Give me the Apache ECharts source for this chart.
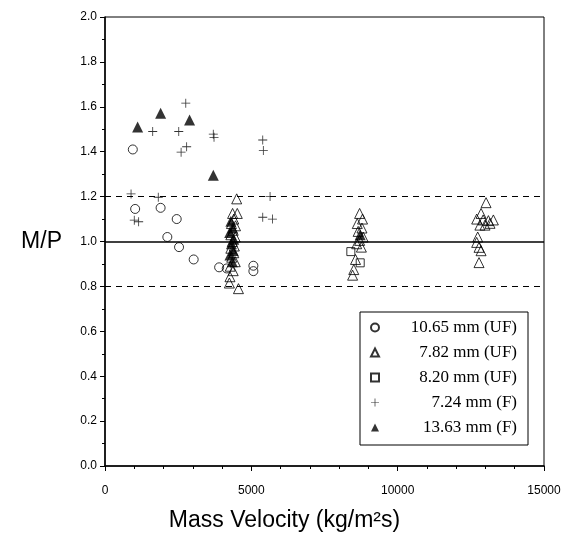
<!DOCTYPE html>
<html>
<head>
<meta charset="utf-8">
<script src="https://cdn.jsdelivr.net/npm/echarts@6/dist/echarts.min.js"></script>
<style>html,body{margin:0;padding:0;background:#fff}#c{width:569px;height:540px}</style>
</head>
<body>
<div id="c"></div>
<script>
var seriesNames = ['10.65 mm (UF)', '7.82 mm (UF)', '8.20 mm (UF)', '7.24 mm (F)', '13.63 mm (F)'];
var xTicks = [0, 5000, 10000, 15000];
var yTicks = [0, 0.2, 0.4, 0.6, 0.8, 1.0, 1.2, 1.4, 1.6, 1.8, 2.0];
var refLines = [0.8, 1.0, 1.2];

var circles1065 = [
  [950, 1.41], [1030, 1.145], [1900, 1.15], [2450, 1.10], [2130, 1.02],
  [2530, 0.975], [3030, 0.92], [3900, 0.885], [4160, 0.88], [5070, 0.892], [5070, 0.868]
];
var triangles782 = [
  [4500, 1.19], [4360, 1.125], [4520, 1.125], [4400, 1.10], [4320, 1.08], [4460, 1.07],
  [4380, 1.05], [4300, 1.03], [4450, 1.02], [4350, 1.00], [4420, 0.98], [4300, 0.97],
  [4400, 0.95], [4330, 0.93], [4450, 0.91], [4280, 0.89], [4380, 0.87], [4270, 0.843],
  [4250, 0.815], [4560, 0.79],
  [8700, 1.125], [8800, 1.10], [8620, 1.08], [8780, 1.06], [8650, 1.045], [8820, 1.02],
  [8700, 1.005], [8600, 0.99], [8760, 0.975], [8560, 0.92], [8500, 0.875], [8460, 0.85],
  [13020, 1.173], [12850, 1.125], [12700, 1.10], [12920, 1.096], [13100, 1.093], [13270, 1.096],
  [12810, 1.073], [12985, 1.073], [13155, 1.081], [12735, 1.02], [12700, 0.996], [12780, 0.974],
  [12850, 0.959], [12780, 0.906]
];
var squares820 = [
  [8400, 0.955], [8720, 0.905]
];
var plus724 = [
  [2760, 1.616], [1630, 1.49], [2520, 1.49], [2790, 1.422], [2600, 1.398], [3700, 1.478],
  [3725, 1.464], [5390, 1.452], [5410, 1.405], [890, 1.212], [1820, 1.197], [5640, 1.20],
  [1000, 1.095], [1150, 1.088], [5390, 1.108], [5720, 1.10]
];
var filled1363 = [
  [1115, 1.51], [1900, 1.571], [2890, 1.541], [3700, 1.295],
  [4300, 1.09], [4360, 1.06], [4260, 1.04], [4400, 1.01], [4320, 0.99], [4380, 0.96],
  [4270, 0.94], [4350, 0.91], [8720, 1.03]
];

var plusPath = 'path://M-0.09,-1H0.09V-0.09H1V0.09H0.09V1H-0.09V0.09H-1V-0.09H-0.09Z';

var chart = echarts.init(document.getElementById('c'));
var openStyle = {color: 'rgba(255,255,255,0)', borderColor: '#000', borderWidth: 1};

chart.setOption({
  animation: false,
  backgroundColor: '#fff',
  grid: {left: 105, right: 25, top: 17, bottom: 74, show: true, borderColor: '#000', borderWidth: 1, backgroundColor: 'transparent'},
  xAxis: {
    type: 'value', min: xTicks[0], max: xTicks[xTicks.length - 1], interval: 5000,
    name: 'Mass Velocity (kg/m\u00B2s)', nameLocation: 'middle', nameGap: 43,
    nameTextStyle: {fontFamily: 'Liberation Sans', fontSize: 23, color: '#000', padding: [0, 80, 0, 0]},
    axisLine: {show: true, lineStyle: {color: '#000', width: 1.5}},
    axisTick: {show: true, length: 5, lineStyle: {color: '#000'}},
    minorTick: {show: true, splitNumber: 5, length: 3, lineStyle: {color: '#000'}},
    splitLine: {show: false},
    axisLabel: {fontFamily: 'Liberation Sans', fontSize: 12, color: '#000', margin: 19,
      formatter: function (v) { return xTicks.indexOf(v) >= 0 ? String(v) : ''; }}
  },
  yAxis: {
    type: 'value', min: yTicks[0], max: yTicks[yTicks.length - 1], interval: 0.2,
    name: 'M/P', nameLocation: 'middle', nameRotate: 0, nameGap: 43,
    nameTextStyle: {fontFamily: 'Liberation Sans', fontSize: 23, color: '#000'},
    axisLine: {show: true, lineStyle: {color: '#000', width: 1.5}},
    axisTick: {show: true, length: 5, lineStyle: {color: '#000'}},
    minorTick: {show: true, splitNumber: 2, length: 3, lineStyle: {color: '#000'}},
    splitLine: {show: false},
    axisLabel: {fontFamily: 'Liberation Sans', fontSize: 12, color: '#000', margin: 8,
      formatter: function (v) { return v.toFixed(1); }}
  },
  legend: {
    data: seriesNames,
    orient: 'vertical', left: 360, top: 312,
    padding: [7, 11, 9, 10], itemWidth: 8, itemHeight: 8, itemGap: 8,
    borderColor: '#000', borderWidth: 1, backgroundColor: '#fff',
    formatter: '{a|{name}}',
    textStyle: {fontFamily: 'Liberation Serif', fontSize: 17, color: '#000',
      rich: {a: {fontFamily: 'Liberation Serif', fontSize: 17, lineHeight: 17, color: '#000', width: 133, align: 'right'}}}
  },
  series: [
    {
      name: 'refs', type: 'line', data: [], z: 1, silent: true,
      markLine: {
        silent: true, symbol: 'none', animation: false, label: {show: false},
        data: [
          {yAxis: refLines[0], lineStyle: {color: '#000', width: 1, type: [6, 5]}},
          {yAxis: refLines[1], lineStyle: {color: '#000', width: 1.6, type: 'solid'}},
          {yAxis: refLines[2], lineStyle: {color: '#000', width: 1, type: [6, 5]}}
        ]
      }
    },
    {name: seriesNames[0], type: 'scatter', data: circles1065, symbol: 'circle', symbolSize: 9, itemStyle: openStyle, z: 3},
    {name: seriesNames[1], type: 'scatter', data: triangles782, symbol: 'triangle', symbolSize: 10, itemStyle: openStyle, z: 3},
    {name: seriesNames[2], type: 'scatter', data: squares820, symbol: 'rect', symbolSize: 8, itemStyle: openStyle, z: 3},
    {name: seriesNames[3], type: 'scatter', data: plus724, symbol: plusPath, symbolSize: 9, itemStyle: {color: '#000'}, z: 3},
    {name: seriesNames[4], type: 'scatter', data: filled1363, symbol: 'triangle', symbolSize: 11, itemStyle: {color: '#000'}, z: 4}
  ]
});
</script>
</body>
</html>
